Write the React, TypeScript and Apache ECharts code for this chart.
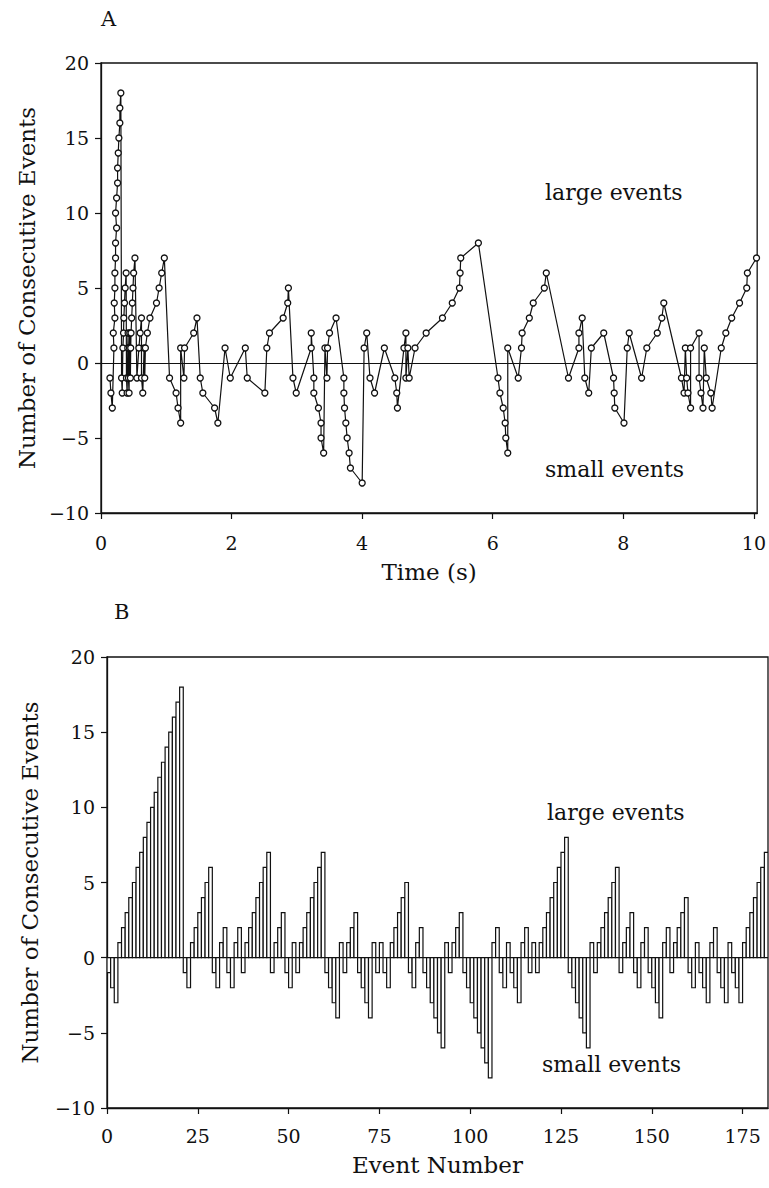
import React, { useEffect, useRef } from "react";
import * as echarts from "echarts";

// Number of consecutive events (positive = run of large events, negative = run of small events)
const eventCounts = [
  -1, -2, -3,
  1, 2, 3, 4, 5, 6, 7, 8, 9, 10, 11, 12, 13, 14, 15, 16, 17, 18,
  -1, -2,
  1, 2, 3, 4, 5, 6,
  -1, -2,
  1, 2,
  -1, -2,
  1, 2,
  -1,
  1, 2, 3, 4, 5, 6, 7,
  -1,
  1, 2, 3,
  -1, -2,
  1,
  -1,
  1, 2, 3, 4, 5, 6, 7,
  -1, -2, -3, -4,
  1,
  -1,
  1, 2, 3,
  -1, -2, -3, -4,
  1,
  -1,
  1,
  -1, -2,
  1, 2, 3, 4, 5,
  -1, -2,
  1, 2,
  -1, -2, -3, -4, -5, -6,
  1,
  -1,
  1, 2, 3,
  -1, -2, -3, -4, -5, -6, -7, -8,
  1, 2,
  -1, -2,
  1,
  -1, -2, -3,
  1, 2,
  -1,
  1,
  -1,
  1, 2, 3, 4, 5, 6, 7, 8,
  -1, -2, -3, -4, -5, -6,
  1,
  -1,
  1, 2, 3, 4, 5, 6,
  -1,
  1, 2, 3,
  -1, -2,
  1, 2,
  -1, -2, -3, -4,
  1, 2,
  -1,
  1, 2, 3, 4,
  -1, -2,
  1,
  -1, -2, -3,
  1, 2,
  -1, -2, -3,
  1,
  -1, -2, -3,
  1, 2, 3, 4, 5, 6, 7,
];

// Time of each event (s)
const eventTimes = [
  0.137, 0.152, 0.173,
  0.198, 0.188, 0.213, 0.203, 0.213, 0.213, 0.223, 0.223, 0.239, 0.223, 0.239, 0.254, 0.254, 0.264, 0.274, 0.289, 0.289, 0.304,
  0.315, 0.325,
  0.335, 0.345, 0.35, 0.36, 0.37, 0.385,
  0.39, 0.4,
  0.41, 0.415,
  0.42, 0.43,
  0.435, 0.44,
  0.45,
  0.455, 0.46, 0.47, 0.48, 0.49, 0.5, 0.52,
  0.55,
  0.58, 0.6, 0.62,
  0.62, 0.64,
  0.66,
  0.67,
  0.68, 0.71, 0.75, 0.85, 0.89, 0.93, 0.97,
  1.05, 1.15, 1.18, 1.22,
  1.22,
  1.27,
  1.28, 1.42, 1.47,
  1.52, 1.56, 1.74, 1.79,
  1.9,
  1.98,
  2.21,
  2.24, 2.51,
  2.54, 2.58, 2.79, 2.86, 2.87,
  2.94, 2.99,
  3.22, 3.22,
  3.26, 3.26, 3.33, 3.37, 3.37, 3.41,
  3.43,
  3.46,
  3.47, 3.5, 3.6,
  3.72, 3.72, 3.73, 3.75, 3.77, 3.8, 3.82, 4.0,
  4.03, 4.07,
  4.12, 4.19,
  4.34,
  4.5, 4.53, 4.54,
  4.64, 4.67,
  4.67,
  4.7,
  4.72,
  4.81, 4.98, 5.23, 5.38, 5.49, 5.5, 5.51, 5.78,
  6.08, 6.11, 6.16, 6.19, 6.2, 6.23,
  6.23,
  6.39,
  6.44, 6.45, 6.56, 6.62, 6.79, 6.82,
  7.16,
  7.32, 7.32, 7.37,
  7.41, 7.47,
  7.51, 7.7,
  7.85, 7.86, 7.87, 8.01,
  8.06, 8.09,
  8.28,
  8.36, 8.52, 8.59, 8.62,
  8.89, 8.93,
  8.95,
  8.97, 8.99, 9.03,
  9.03, 9.16,
  9.16, 9.19, 9.22,
  9.24,
  9.27, 9.34, 9.36,
  9.5, 9.57, 9.66, 9.78, 9.89, 9.9, 10.04,
];

const eventNumbers = eventCounts.map((_, i) => i + 1);

const yTicks = { min: -10, max: 20, interval: 5 };
const timeTicks = { min: 0, max: 10.05, interval: 2 };
const eventTicks = { min: 0, max: 182, interval: 25 };

const FONT = "DejaVu Serif";
const INK = "#111";

const fmtNum = (v: number) => (v < 0 ? "\u2212" + Math.abs(v) : String(v));

function yAxisCfg(gridIndex: number, nameGap: number) {
  return {
    type: "value",
    gridIndex,
    min: yTicks.min,
    max: yTicks.max,
    interval: yTicks.interval,
    name: "Number of Consecutive Events",
    nameLocation: "middle",
    nameGap,
    nameTextStyle: { fontFamily: FONT, fontSize: 23, color: INK },
    axisLine: { show: true, lineStyle: { color: INK, width: 1.3 } },
    axisTick: { show: true, inside: false, length: 6, lineStyle: { color: INK, width: 1.2 } },
    axisLabel: { fontFamily: FONT, fontSize: 19, color: INK, margin: 12, formatter: fmtNum },
    splitLine: { show: false },
  };
}

function xAxisCfg(gridIndex: number, ticks: any, name: string, nameGap: number, labelMargin: number) {
  return {
    type: "value",
    gridIndex,
    min: ticks.min,
    max: ticks.max,
    interval: ticks.interval,
    name,
    nameLocation: "middle",
    nameGap,
    nameTextStyle: { fontFamily: FONT, fontSize: 23, color: INK },
    axisLine: { show: true, onZero: false, lineStyle: { color: INK, width: 1.3 } },
    axisTick: { show: true, inside: false, length: 6, lineStyle: { color: INK, width: 1.2 } },
    axisLabel: {
      fontFamily: FONT,
      fontSize: 19,
      color: INK,
      margin: labelMargin,
      showMaxLabel: false,
      formatter: (v: number) =>
        Math.abs(v / ticks.interval - Math.round(v / ticks.interval)) < 1e-6 ? fmtNum(v) : "",
    },
    splitLine: { show: false },
  };
}

export default function App() {
  const ref = useRef<HTMLDivElement>(null);
  useEffect(() => {
    if (!ref.current) return;
    const chart = echarts.init(ref.current, null, { renderer: "svg" });
    const zeroLine = {
      silent: true,
      symbol: "none",
      label: { show: false },
      lineStyle: { color: INK, width: 1.1, type: "solid" },
      data: [{ yAxis: 0 }],
    };
    chart.setOption({
      animation: false,
      backgroundColor: "#fff",
      textStyle: { fontFamily: FONT },
      grid: [
        { left: 101, top: 63, width: 660, height: 450, show: true, borderColor: INK, borderWidth: 1.3, backgroundColor: "transparent" },
        { left: 107, top: 657, width: 661, height: 451, show: true, borderColor: INK, borderWidth: 1.3, backgroundColor: "transparent" },
      ],
      xAxis: [
        xAxisCfg(0, timeTicks, "Time (s)", 47, 20),
        xAxisCfg(1, eventTicks, "Event Number", 45, 18),
      ],
      yAxis: [yAxisCfg(0, 60), yAxisCfg(1, 66)],
      series: [
        {
          type: "line",
          xAxisIndex: 0,
          yAxisIndex: 0,
          data: eventTimes.map((t, i) => [t, eventCounts[i]]),
          symbol: "circle",
          symbolSize: 6,
          showAllSymbol: true,
          lineStyle: { color: INK, width: 1.2 },
          itemStyle: { color: "#fff", borderColor: INK, borderWidth: 1.3 },
          markLine: zeroLine,
          z: 3,
        },
        {
          type: "line",
          xAxisIndex: 1,
          yAxisIndex: 1,
          data: [],
          markLine: zeroLine,
          z: 1,
        },
        {
          type: "custom",
          xAxisIndex: 1,
          yAxisIndex: 1,
          clip: true,
          z: 2,
          data: eventNumbers.map((n, i) => [n, eventCounts[i]]),
          renderItem: (params: any, api: any) => {
            const n = api.value(0);
            const v = api.value(1);
            const p0 = api.coord([n - 1, 0]);
            const p1 = api.coord([n, v]);
            return {
              type: "rect",
              shape: {
                x: p0[0],
                y: Math.min(p0[1], p1[1]),
                width: p1[0] - p0[0],
                height: Math.abs(p1[1] - p0[1]),
              },
              style: { fill: "#fff", stroke: INK, lineWidth: 1.2 },
            };
          },
        },
      ],
      graphic: [
        { type: "text", left: 101, top: 8, style: { text: "A", fontFamily: FONT, fontSize: 21, fill: INK } },
        { type: "text", left: 114, top: 601, style: { text: "B", fontFamily: FONT, fontSize: 21, fill: INK } },
        { type: "text", left: 545, top: 181, style: { text: "large events", fontFamily: FONT, fontSize: 22, fill: INK } },
        { type: "text", left: 545, top: 458, style: { text: "small events", fontFamily: FONT, fontSize: 22, fill: INK } },
        { type: "text", left: 547, top: 801, style: { text: "large events", fontFamily: FONT, fontSize: 22, fill: INK } },
        { type: "text", left: 542, top: 1053, style: { text: "small events", fontFamily: FONT, fontSize: 22, fill: INK } },
      ],
    });
    return () => chart.dispose();
  }, []);
  return (
    <div
      ref={ref}
      style={{ position: "fixed", left: 0, top: 0, width: 769, height: 1188, background: "#fff" }}
    />
  );
}
